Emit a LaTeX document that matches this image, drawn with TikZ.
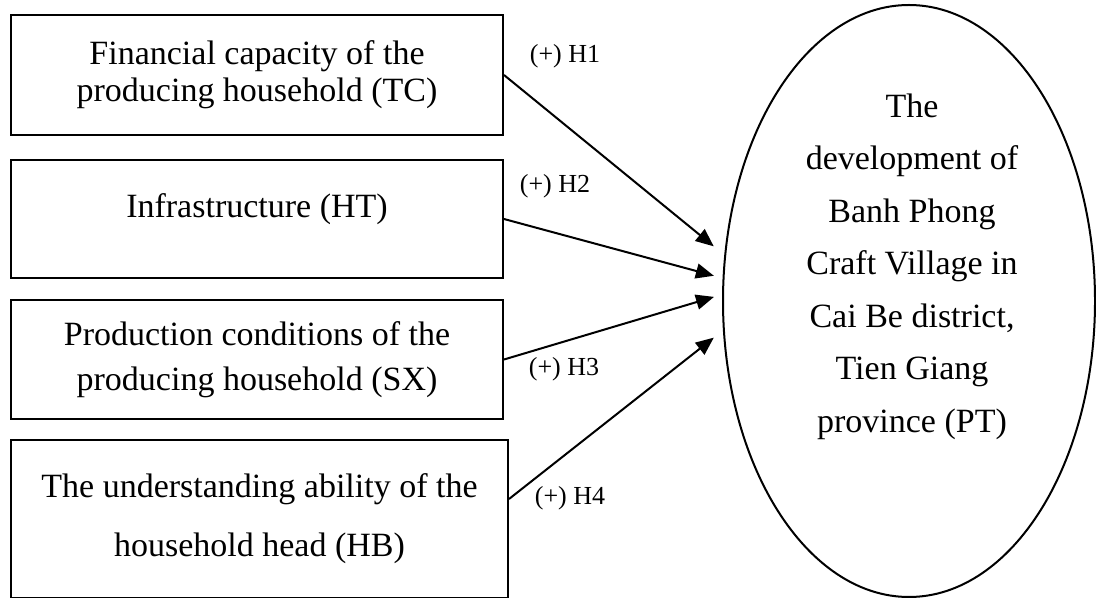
\documentclass[tikz,border=0pt]{standalone}
\usepackage{fontspec}
\setmainfont{Liberation Serif}
\usetikzlibrary{positioning,shapes.geometric,arrows.meta}
\begin{document}
\begin{tikzpicture}[node distance=11pt,
  box/.style = {draw, line width=1pt, minimum width=246pt, align=center, font=\fontsize{17}{18.5}\selectfont},
  hyp/.style = {font=\fontsize{13}{15}\selectfont},
  arr/.style = {line width=1pt, -{Triangle[length=9pt,width=7.5pt]}}]
\useasboundingbox (0,0) rectangle (548pt,-299pt);
\node[box, minimum height=60pt, anchor=north west] (tc) at (5pt,-7pt) {Financial capacity of the\\producing household (TC)};
\node[box, minimum height=59pt, text height=12pt, text depth=13pt, below=11.5pt of tc] (ht) {Infrastructure (HT)};
\node[box, minimum height=59.5pt, below=10pt of ht] (sx) {Production conditions of the\\[4pt]producing household (SX)};
\node[box, minimum width=248.5pt, minimum height=79pt, below right=9.5pt and 0pt of sx.south west] (hb) {The understanding ability of the\\[11pt]household head (HB)};
\node[ellipse, draw, line width=1pt, minimum width=186pt, minimum height=296pt,
  label={[align=center, font=\fontsize{17}{26.25}\selectfont, xshift=1.5pt, yshift=17.2pt]center:{The\\development of\\Banh Phong\\Craft Village in\\Cai Be district,\\Tien Giang\\province (PT)}}] (pt) at (454.5pt,-150.5pt) {};

\draw[arr, shorten >=6.8pt] (tc.east) -- node[hyp, at start, xshift=30.5pt, yshift=9.5pt] {(+) H1} (pt.166);
\draw[arr, shorten >=4.5pt] (ht.east) -- node[hyp, at start, xshift=25.5pt, yshift=16.5pt] {(+) H2} (pt.173);
\draw[arr, shorten >=4.2pt] (sx.east) -- node[hyp, at start, xshift=30pt, yshift=-4.75pt] {(+) H3} (pt.178);
\draw[arr, shorten >=5.8pt] ([yshift=10pt]hb.east) -- node[hyp, at start, xshift=30.5pt, yshift=0.5pt] {(+) H4} (pt.189);
\end{tikzpicture}
\end{document}
